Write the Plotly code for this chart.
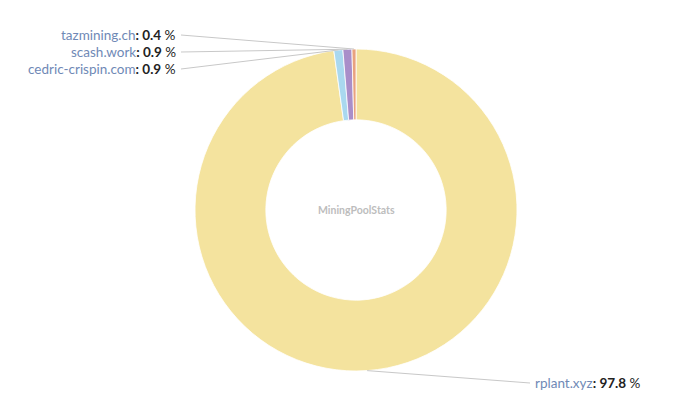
import math
import plotly.graph_objects as go

labels = ["rplant.xyz", "cedric-crispin.com", "scash.work", "tazmining.ch"]
values = [97.8, 0.9, 0.9, 0.4]
colors = ["#F4E39E", "#A9D8EF", "#A98EC9", "#E9A27E"]

W, H = 680, 419
OFF = 8  # page body margin offset
CX, CY, R = 356 - OFF, 210 - OFF, 161

fig = go.Figure(go.Pie(
    labels=labels, values=values, sort=False, direction="clockwise", rotation=0,
    hole=0.56, textinfo="none", hoverinfo="label+percent",
    marker=dict(colors=colors, line=dict(color="#ffffff", width=0.8)),
    domain=dict(x=[(CX - R) / W, (CX + R) / W], y=[1 - (CY + R) / H, 1 - (CY - R) / H]),
    showlegend=False,
))

def px(x, y):
    return x / W, 1 - y / H

def anchor(i):
    cum = sum(values[:i]) + values[i] / 2
    ang = 2 * math.pi * cum / sum(values)
    return CX + R * math.sin(ang), CY - R * math.cos(ang)

# label positions (screen px), keyed by index
label_pos = {3: (177, 35, "right"), 2: (177, 52, "right"), 1: (177, 69, "right"), 0: (534, 383, "left")}

shapes, annotations = [], []
for i, (lx, ly, side) in label_pos.items():
    lx, ly = lx - OFF, ly - OFF
    ax, ay = anchor(i)
    x0, y0 = px(lx + (4 if side == "right" else -4), ly)
    x1, y1 = px(ax, ay)
    shapes.append(dict(type="line", xref="paper", yref="paper", x0=x0, y0=y0, x1=x1, y1=y1,
                       line=dict(color="#c8c8c8", width=1)))
    txt = f'<span style="color:#6f89b6">{labels[i]}</span><b>: {values[i]}</b> %'
    tx, ty = px(lx, ly)
    annotations.append(dict(xref="paper", yref="paper", x=tx, y=ty, text=txt, showarrow=False,
                            xanchor="right" if side == "right" else "left", yanchor="middle",
                            borderpad=0,
                            font=dict(size=13.5, color="#222222", family="Lato, Noto Sans, sans-serif")))

cx_p, cy_p = px(CX, CY)
annotations.append(dict(xref="paper", yref="paper", x=cx_p, y=cy_p, text="<b>MiningPoolStats</b>",
                        showarrow=False, xanchor="center", yanchor="middle",
                        font=dict(size=10.5, color="#bdbdbd", family="Lato, Noto Sans, sans-serif")))

fig.update_layout(width=W, height=H, margin=dict(l=0, r=0, t=0, b=0),
                  paper_bgcolor="white", plot_bgcolor="white",
                  shapes=shapes, annotations=annotations)
fig.write_html("out.html")
